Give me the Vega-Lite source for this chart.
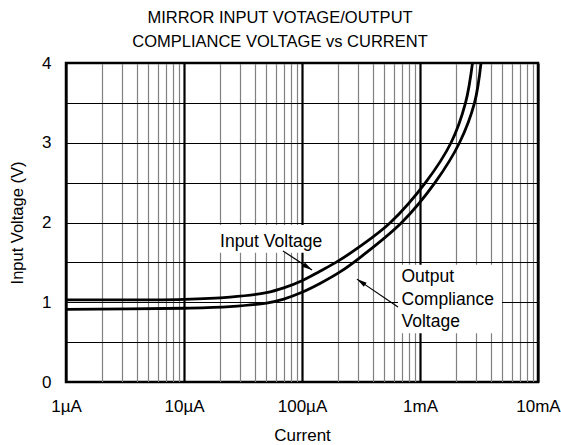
{
  "$schema": "https://vega.github.io/schema/vega-lite/v6.json",
  "width": 472,
  "height": 319,
  "autosize": {"type": "none"},
  "padding": {"left": 66, "top": 63, "right": 23, "bottom": 63},
  "background": "white",
  "config": {
    "font": "Liberation Sans",
    "view": {"stroke": "black", "strokeWidth": 2.5}
  },
  "title": {
    "text": ["MIRROR INPUT VOTAGE/OUTPUT", "COMPLIANCE VOLTAGE vs CURRENT"],
    "anchor": "middle",
    "frame": "group",
    "dx": -22,
    "dy": 24,
    "offset": 15,
    "baseline": "alphabetic",
    "lineHeight": 24,
    "fontSize": 16.5,
    "fontWeight": "normal",
    "font": "Liberation Sans",
    "color": "black"
  },
  "datasets": {
    "curves": [
      {"series": "Input Voltage", "current": 1, "voltage": 1.03},
      {"series": "Input Voltage", "current": 10, "voltage": 1.037},
      {"series": "Input Voltage", "current": 24.5, "voltage": 1.065},
      {"series": "Input Voltage", "current": 50, "voltage": 1.12},
      {"series": "Input Voltage", "current": 70, "voltage": 1.18},
      {"series": "Input Voltage", "current": 100, "voltage": 1.27},
      {"series": "Input Voltage", "current": 142, "voltage": 1.39},
      {"series": "Input Voltage", "current": 194, "voltage": 1.5},
      {"series": "Input Voltage", "current": 310, "voltage": 1.7},
      {"series": "Input Voltage", "current": 562, "voltage": 2.0},
      {"series": "Input Voltage", "current": 1113, "voltage": 2.5},
      {"series": "Input Voltage", "current": 1832, "voltage": 3.0},
      {"series": "Input Voltage", "current": 2430, "voltage": 3.5},
      {"series": "Input Voltage", "current": 2786, "voltage": 4.0},
      {"series": "Output Compliance Voltage", "current": 1, "voltage": 0.91},
      {"series": "Output Compliance Voltage", "current": 10, "voltage": 0.925},
      {"series": "Output Compliance Voltage", "current": 24.5, "voltage": 0.945},
      {"series": "Output Compliance Voltage", "current": 50, "voltage": 0.99},
      {"series": "Output Compliance Voltage", "current": 70, "voltage": 1.04},
      {"series": "Output Compliance Voltage", "current": 100, "voltage": 1.125},
      {"series": "Output Compliance Voltage", "current": 142, "voltage": 1.235},
      {"series": "Output Compliance Voltage", "current": 210, "voltage": 1.38},
      {"series": "Output Compliance Voltage", "current": 316, "voltage": 1.57},
      {"series": "Output Compliance Voltage", "current": 700, "voltage": 2.0},
      {"series": "Output Compliance Voltage", "current": 1340, "voltage": 2.5},
      {"series": "Output Compliance Voltage", "current": 2161, "voltage": 3.0},
      {"series": "Output Compliance Voltage", "current": 2897, "voltage": 3.5},
      {"series": "Output Compliance Voltage", "current": 3288, "voltage": 4.0}
    ],
    "boxes": [
      {"current": 19.4, "current2": 172, "voltage": 1.97, "voltage2": 1.62},
      {"current": 651, "current2": 4950, "voltage": 1.47, "voltage2": 0.61}
    ],
    "labels": [
      {"current": 20.2, "voltage": 1.689, "label": "Input Voltage"},
      {"current": 697, "voltage": 1.258, "label": "Output"},
      {"current": 697, "voltage": 0.966, "label": "Compliance"},
      {"current": 697, "voltage": 0.686, "label": "Voltage"}
    ],
    "arrows": [
      {"current": 69, "voltage": 1.643, "current2": 121.6, "voltage2": 1.404},
      {"current": 651, "voltage": 0.94, "current2": 292, "voltage2": 1.29}
    ],
    "head1": [{"current": 121.6, "voltage": 1.404}],
    "head2": [{"current": 292, "voltage": 1.29}]
  },
  "encoding": {
    "x": {
      "field": "current",
      "type": "quantitative",
      "title": "Current",
      "scale": {"type": "log", "domain": [1, 10000], "nice": false},
      "axis": {
        "values": [1,2,3,4,5,6,7,8,9,10,20,30,40,50,60,70,80,90,100,200,300,400,500,600,700,800,900,1000,2000,3000,4000,5000,6000,7000,8000,9000,10000],
        "labelExpr": "datum.value == 1 ? '1µA' : datum.value == 10 ? '10µA' : datum.value == 100 ? '100µA' : datum.value == 1000 ? '1mA' : datum.value == 10000 ? '10mA' : ''",
        "labelOverlap": false,
        "labelFlush": false,
        "ticks": false,
        "domain": false,
        "grid": true,
        "gridColor": {"condition": {"test": "indexof([1,10,100,1000,10000], datum.value) >= 0", "value": "black"}, "value": "#808080"},
        "gridWidth": {"condition": {"test": "indexof([1,10,100,1000,10000], datum.value) >= 0", "value": 2.2}, "value": 1.2},
        "gridOpacity": 1,
        "labelPadding": 16,
        "labelFontSize": 17,
        "labelColor": "black",
        "titleFontSize": 17,
        "titleFontWeight": "normal",
        "titleColor": "black",
        "titlePadding": 13
      }
    },
    "y": {
      "field": "voltage",
      "type": "quantitative",
      "title": "Input Voltage (V)",
      "scale": {"domain": [0, 4], "nice": false, "zero": false},
      "axis": {
        "values": [0, 0.5, 1, 1.5, 2, 2.5, 3, 3.5, 4],
        "labelExpr": "datum.value % 1 == 0 ? datum.value : ''",
        "labelOverlap": false,
        "labelFlush": false,
        "ticks": false,
        "domain": false,
        "grid": true,
        "gridColor": "black",
        "gridWidth": 1.2,
        "gridOpacity": 1,
        "labelPadding": 15,
        "labelFontSize": 17,
        "labelColor": "black",
        "titleFontSize": 16.5,
        "titleFontWeight": "normal",
        "titleColor": "black",
        "titlePadding": 16
      }
    }
  },
  "layer": [
    {
      "data": {"name": "curves"},
      "mark": {"type": "line", "color": "black", "strokeWidth": 2.8, "interpolate": "catmull-rom"},
      "encoding": {"detail": {"field": "series"}}
    },
    {
      "data": {"name": "boxes"},
      "mark": {"type": "rect", "fill": "white", "stroke": null},
      "encoding": {
        "x2": {"field": "current2"},
        "y2": {"field": "voltage2"}
      }
    },
    {
      "data": {"name": "labels"},
      "mark": {"type": "text", "align": "left", "baseline": "alphabetic", "fontSize": 17.5, "color": "black", "font": "Liberation Sans"},
      "encoding": {"text": {"field": "label"}}
    },
    {
      "data": {"name": "arrows"},
      "mark": {"type": "rule", "color": "black", "strokeWidth": 1.2},
      "encoding": {
        "x2": {"field": "current2"},
        "y2": {"field": "voltage2"}
      }
    },
    {
      "data": {"name": "head1"},
      "mark": {"type": "point", "shape": "M0,0L-0.5,2L0.5,2Z", "filled": true, "color": "black", "opacity": 1, "size": 100, "angle": 123}
    },
    {
      "data": {"name": "head2"},
      "mark": {"type": "point", "shape": "M0,0L-0.5,2L0.5,2Z", "filled": true, "color": "black", "opacity": 1, "size": 100, "angle": 304}
    }
  ]
}
